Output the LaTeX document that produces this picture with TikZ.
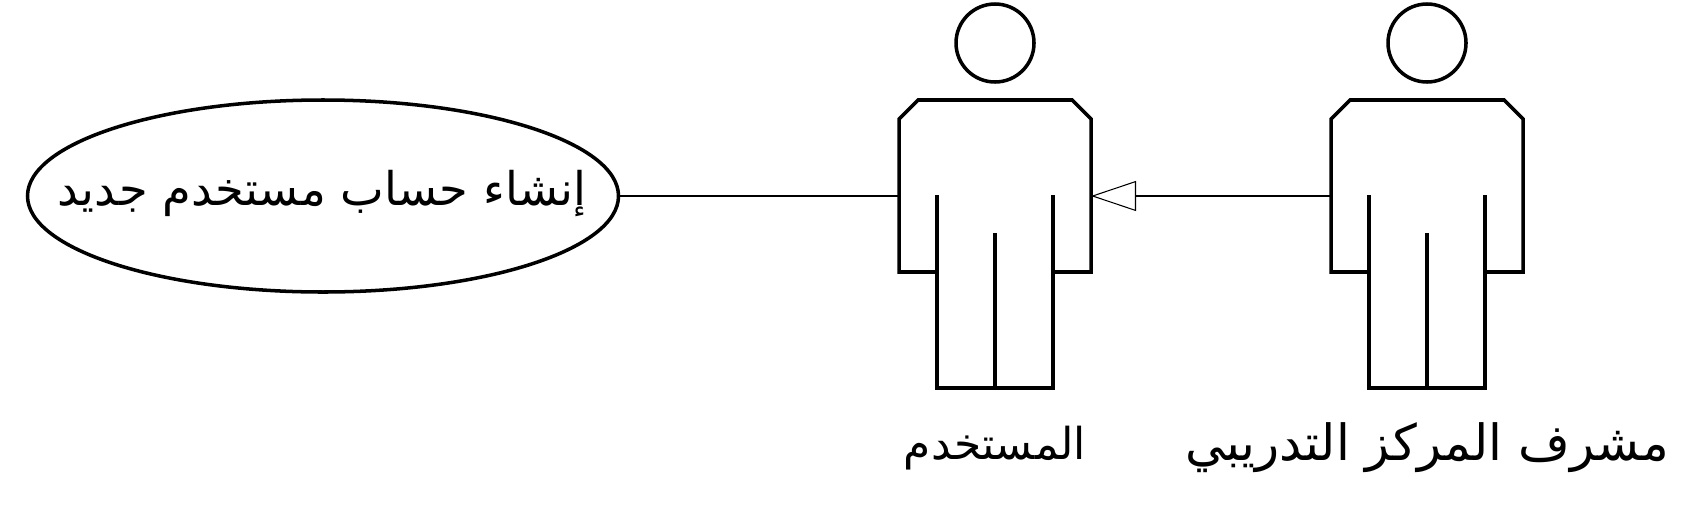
\documentclass[tikz,border=0pt]{standalone}
\usepackage{fontspec}
\usetikzlibrary{shapes.geometric, arrows.meta, positioning}
\newfontfamily\arabicfont[Script=Arabic]{DejaVu Sans}
\TeXXeTstate=1

\begin{document}
\begin{tikzpicture}[
  figure/.style={draw=black, line width=1pt, line join=miter},
  head/.style={figure, circle, minimum size=0.78cm, inner sep=0pt},
  usecase/.style={figure, ellipse, minimum width=5.91cm, minimum height=1.92cm, inner sep=0pt},
  arabic/.style={inner sep=0pt, font=\arabicfont\fontsize{13.2}{16}\selectfont},
  userfont/.style={inner sep=0pt, font=\arabicfont\fontsize{12.5}{16}\selectfont},
  superfont/.style={inner sep=0pt, font=\arabicfont\fontsize{14.2}{16}\selectfont},
  link/.style={draw=black, line width=0.3pt},
  inherit/.style={link, -{Triangle[open, length=0.45cm, width=0.30cm]}}
]
  \useasboundingbox (0,0) rectangle (17.07,5.16);

  % Use case
  \node[usecase] (create) at (3.23, 3.20) {};
  \node[arabic] (createlabel) at (3.22, 3.22) {\beginR إنشاء حساب مستخدم جديد\endR};

  % First actor
  \node[head] (userhead) at (9.95, 4.73) {};
  \draw[figure] (9.37, 2.44) -- (8.99, 2.44) -- (8.99, 3.97) -- (9.18, 4.16) -- (10.72, 4.16) -- (10.91, 3.97) -- (10.91, 2.44) -- (10.53, 2.44);
  \draw[figure] (9.37, 3.21) -- (9.37, 1.28) -- (10.53, 1.28) -- (10.53, 3.21);
  \draw[figure] (9.95, 2.83) -- (9.95, 1.28);
  \coordinate (userleft) at (8.99, 3.20);
  \coordinate (userright) at (10.91, 3.20);
  \node[userfont] (userlabel) at (9.95, 0.68) {\beginR المستخدم\endR};

  % Second actor
  \node[head] (superhead) at (14.27, 4.73) {};
  \draw[figure] (13.69, 2.44) -- (13.31, 2.44) -- (13.31, 3.97) -- (13.50, 4.16) -- (15.04, 4.16) -- (15.23, 3.97) -- (15.23, 2.44) -- (14.85, 2.44);
  \draw[figure] (13.69, 3.21) -- (13.69, 1.28) -- (14.85, 1.28) -- (14.85, 3.21);
  \draw[figure] (14.27, 2.83) -- (14.27, 1.28);
  \coordinate (superleft) at (13.31, 3.20);
  \node[superfont] (superlabel) at (14.27, 0.68) {\beginR مشرف المركز التدريبي\endR};

  % Arrows
  \draw[link] (create.east) -- (userleft);
  \draw[inherit] (superleft) -- (userright);
\end{tikzpicture}
\end{document}
